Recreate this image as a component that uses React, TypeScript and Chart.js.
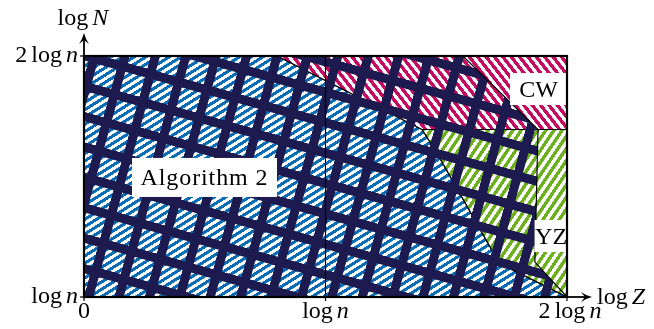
import React, { useEffect, useRef } from 'react';
import { Chart, registerables } from 'chart.js';
Chart.register(...registerables);

// ---- Axes (values in units of log n) ----
const X_TICK_VALUES = [0, 1, 2];
const X_TICK_LABELS = ['0', 'log n', '2 log n'];
const Y_TICK_VALUES = [1, 2];
const Y_TICK_LABELS = ['log n', '2 log n'];
const X_AXIS_TITLE = 'log Z';
const Y_AXIS_TITLE = 'log N';
const X_MIN = 0, X_MAX = 2, Y_MIN = 1, Y_MAX = 2;

// ---- Regions (polygon vertices: log Z, log N in units of log n) ----
const ALG2_X = [0, 0, 0.8, 1.4, 1.46, 1.72, 2, 0];
const ALG2_Y = [1, 2, 2, 1.695, 1.6, 1.14, 1, 1];
const CW_X = [0.8, 2, 2, 1.4, 0.8];
const CW_Y = [2, 2, 1.695, 1.695, 2];
const YZ_X = [1.4, 2, 2, 1.72, 1.46, 1.4];
const YZ_Y = [1.695, 1.695, 1, 1.14, 1.6, 1.695];
const GRID_X = [0, 0, 1.569, 1.88, 1.867, 2, 0];
const GRID_Y = [1, 2, 2, 1.695, 1.145, 1, 1];

// ---- Region labels ----
const REGION_LABELS = ['Algorithm 2', 'CW', 'YZ'];
const REGION_LABEL_X = [0.499, 1.882, 1.934];
const REGION_LABEL_Y = [1.496, 1.863, 1.253];

// ---- Styles ----
const FONT = '"Liberation Serif", "Times New Roman", serif';
const FS = 24;
const BLUE = '#0a6cb4';
const MAGENTA = '#c50a62';
const GREEN = '#6cb01e';
const NAVY = '#1c1a4e';
const LABEL_BOX_W = [145, 57, 33];
const LABEL_BOX_H = [39, 32, 32];

function stripePattern(ctx: CanvasRenderingContext2D, color: string, period: number, frac: number, angle: number) {
  const t = document.createElement('canvas');
  t.width = 4; t.height = 40;
  const c = t.getContext('2d')!;
  c.fillStyle = '#ffffff';
  c.fillRect(0, 0, 4, 40);
  c.fillStyle = color;
  c.fillRect(0, 0, 4, 40 * frac);
  const p = ctx.createPattern(t, 'repeat')!;
  p.setTransform(new DOMMatrix().rotateSelf(angle).scaleSelf(period / 40));
  return p;
}

function gridPattern(ctx: CanvasRenderingContext2D, ox: number, oy: number, angle: number, period: number, band: number) {
  const S = 60;
  const t = document.createElement('canvas');
  t.width = S; t.height = S;
  const c = t.getContext('2d')!;
  const b = (band / period) * S;
  c.fillStyle = NAVY;
  c.fillRect(0, 0, S, b);
  c.fillRect(0, 0, b, S);
  const p = ctx.createPattern(t, 'repeat')!;
  p.setTransform(new DOMMatrix().translateSelf(ox, oy).rotateSelf(angle).scaleSelf(period / S).translateSelf(-b / 2, -b / 2));
  return p;
}

function pts(xs: number[], ys: number[]) {
  return xs.map((x, i) => ({ x, y: ys[i] }));
}

type Seg = { t: string; i: boolean };
function toSegs(s: string): Seg[] {
  return s.split(' ').map((t) => ({ t, i: /^[A-Za-z]$/.test(t) }));
}

function drawMath(ctx: CanvasRenderingContext2D, s: string, x: number, y: number, align: 'left' | 'center' | 'right') {
  const segs = toSegs(s);
  const gap = FS * 0.17;
  const widths = segs.map((g) => {
    ctx.font = `${g.i ? 'italic ' : ''}${FS}px ${FONT}`;
    return ctx.measureText(g.t).width;
  });
  const total = widths.reduce((a, b) => a + b, 0) + gap * (segs.length - 1);
  let cx = align === 'left' ? x : align === 'center' ? x - total / 2 : x - total;
  ctx.textAlign = 'left';
  ctx.textBaseline = 'alphabetic';
  ctx.fillStyle = '#000';
  segs.forEach((g, k) => {
    ctx.font = `${g.i ? 'italic ' : ''}${FS}px ${FONT}`;
    ctx.fillText(g.t, cx, y);
    cx += widths[k] + gap;
  });
}

function arrowHead(ctx: CanvasRenderingContext2D, x: number, y: number, dx: number, dy: number) {
  const L = 11, W = 5, N = 7;
  const px = -dy, py = dx;
  ctx.beginPath();
  ctx.moveTo(x, y);
  ctx.quadraticCurveTo(x - dx * L * 0.55 + px * W * 0.3, y - dy * L * 0.55 + py * W * 0.3, x - dx * L + px * W, y - dy * L + py * W);
  ctx.lineTo(x - dx * N, y - dy * N);
  ctx.lineTo(x - dx * L - px * W, y - dy * L - py * W);
  ctx.quadraticCurveTo(x - dx * L * 0.55 - px * W * 0.3, y - dy * L * 0.55 - py * W * 0.3, x, y);
  ctx.closePath();
  ctx.fillStyle = '#000';
  ctx.fill();
}

const decor = {
  id: 'decor',
  afterDatasetsDraw(chart: any) {
    const ctx: CanvasRenderingContext2D = chart.ctx;
    const xs = chart.scales.x, ys = chart.scales.y;
    const L = xs.getPixelForValue(X_MIN), R = xs.getPixelForValue(X_MAX);
    const T = ys.getPixelForValue(Y_MAX), B = ys.getPixelForValue(Y_MIN);
    ctx.save();
    ctx.strokeStyle = '#000';
    // middle line at log n
    ctx.lineWidth = 1.2;
    const mx = xs.getPixelForValue(1);
    ctx.beginPath(); ctx.moveTo(mx, T); ctx.lineTo(mx, B); ctx.stroke();
    // region label boxes
    REGION_LABELS.forEach((lab, k) => {
      const cx = xs.getPixelForValue(REGION_LABEL_X[k]);
      const cy = ys.getPixelForValue(REGION_LABEL_Y[k]);
      const w = LABEL_BOX_W[k], h = LABEL_BOX_H[k];
      ctx.fillStyle = '#fff';
      ctx.fillRect(cx - w / 2, cy - h / 2, w, h);
      ctx.fillStyle = '#000';
      ctx.font = `${FS}px ${FONT}`;
      ctx.textAlign = 'center';
      ctx.textBaseline = 'alphabetic';
      (ctx as any).letterSpacing = k === 0 ? '0.9px' : '0px';
      ctx.fillText(lab, cx, cy + 7.5);
      (ctx as any).letterSpacing = '0px';
    });
    // frame
    ctx.lineWidth = 2.2;
    ctx.strokeRect(L, T, R - L, B - T);
    // axis arrows
    ctx.lineWidth = 1.8;
    ctx.beginPath(); ctx.moveTo(L, T); ctx.lineTo(L, T - 20); ctx.stroke();
    arrowHead(ctx, L, T - 23, 0, -1);
    ctx.beginPath(); ctx.moveTo(R, B); ctx.lineTo(R + 22, B); ctx.stroke();
    arrowHead(ctx, R + 25, B, 1, 0);
    // ticks
    ctx.lineWidth = 1.2;
    X_TICK_VALUES.forEach((v, k) => {
      const px = xs.getPixelForValue(v);
      ctx.beginPath(); ctx.moveTo(px, B); ctx.lineTo(px, B + 4); ctx.stroke();
      drawMath(ctx, X_TICK_LABELS[k], px + (k === 2 ? 3 : 0), B + 21, 'center');
    });
    Y_TICK_VALUES.forEach((v, k) => {
      const py = ys.getPixelForValue(v);
      ctx.beginPath(); ctx.moveTo(L - 4, py); ctx.lineTo(L, py); ctx.stroke();
      drawMath(ctx, Y_TICK_LABELS[k], L - 6, py + 6, 'right');
    });
    drawMath(ctx, Y_AXIS_TITLE, L - 1, 25, 'center');
    drawMath(ctx, X_AXIS_TITLE, R + 30, B + 7, 'left');
    ctx.restore();
  },
};

export default function App() {
  const ref = useRef<HTMLCanvasElement>(null);
  useEffect(() => {
    const canvas = ref.current!;
    const ctx = canvas.getContext('2d')!;
    const blue = stripePattern(ctx, BLUE, 6.2, 0.5, -32);
    const magenta = stripePattern(ctx, MAGENTA, 6.6, 0.52, 52);
    const green = stripePattern(ctx, GREEN, 6.8, 0.5, -56);
    const grid = gridPattern(ctx, 139.5, 223.1, 15.5, 29.3, 9);
    const common = {
      showLine: true,
      fill: 'shape' as const,
      pointRadius: 0,
      borderColor: '#000',
      borderWidth: 1.2,
      tension: 0,
      borderJoinStyle: 'miter' as const,
    };
    const chart = new Chart(canvas, {
      type: 'scatter',
      data: {
        datasets: [
          { ...common, label: 'grid', data: pts(GRID_X, GRID_Y), backgroundColor: grid, order: 0 },
          { ...common, label: 'YZ', data: pts(YZ_X, YZ_Y), backgroundColor: green, order: 1 },
          { ...common, label: 'CW', data: pts(CW_X, CW_Y), backgroundColor: magenta, order: 2 },
          { ...common, label: 'Algorithm 2', data: pts(ALG2_X, ALG2_Y), backgroundColor: blue, order: 3 },
        ] as any,
      },
      options: {
        responsive: false,
        animation: false,
        events: [],
        layout: { padding: { left: 84, right: 87, top: 56, bottom: 32 } },
        scales: {
          x: { type: 'linear', min: X_MIN, max: X_MAX, display: false },
          y: { type: 'linear', min: Y_MIN, max: Y_MAX, display: false },
        },
        plugins: { legend: { display: false }, tooltip: { enabled: false } },
      },
      plugins: [decor],
    });
    let alive = true;
    if ((document as any).fonts) {
      Promise.all([
        document.fonts.load(`${FS}px "Liberation Serif"`),
        document.fonts.load(`italic ${FS}px "Liberation Serif"`),
      ]).then(() => { if (alive) chart.draw(); }).catch(() => {});
    }
    return () => { alive = false; chart.destroy(); };
  }, []);
  return (
    <div style={{ position: 'fixed', left: 0, top: 0, width: 654, height: 329, background: '#fff' }}>
      <canvas ref={ref} width={654} height={329} style={{ display: 'block' }} />
    </div>
  );
}
